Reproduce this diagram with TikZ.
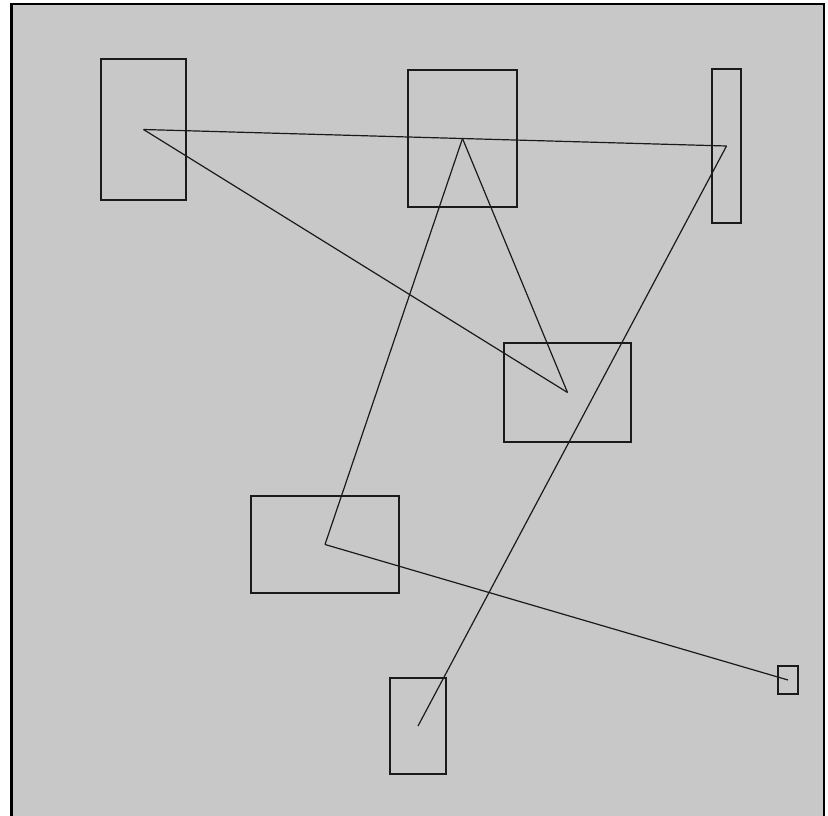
\documentclass[tikz,border=0pt]{standalone}
\usepackage{tikz}
\usetikzlibrary{positioning}
\definecolor{PlotBack}{HTML}{C8C8C8}
\definecolor{PlotInk}{HTML}{1A1A1A}
\tikzset{
  frame/.style={draw=black, fill=PlotBack, line width=2.2pt},
  cell/.style={draw=PlotInk, rectangle, inner sep=0pt, line width=1.4pt},
  link/.style={draw=PlotInk, line width=1.2pt},
}
\begin{document}
\begin{tikzpicture}[x=1pt, y=-1pt]

  \useasboundingbox (0,0) rectangle (828,816);
  \draw[frame] (11.5,4) rectangle (824,822);

  % boxes
  \node[cell, minimum width=85pt,  minimum height=141pt] (alpha) at (143.5,129.5) {};
  \node[cell, minimum width=109pt, minimum height=137pt] (beta)  at (462.5,138.5) {};
  \node[cell, minimum width=29pt,  minimum height=154pt] (gamma) at (726.5,146)   {};
  \node[cell, minimum width=127pt, minimum height=99pt]  (delta) at (567.5,392.5) {};
  \node[cell, minimum width=148pt, minimum height=97pt]  (eps)   at (325,544.5)   {};
  \node[cell, minimum width=56pt,  minimum height=96pt]  (zeta)  at (418,726)     {};
  \node[cell, minimum width=20pt,  minimum height=28pt]  (eta)   at (788,680)     {};

  % links between centres
  \draw[link] (alpha.center) -- (gamma.center);
  \draw[link] (alpha.center) -- (delta.center);
  \draw[link] (beta.center)  -- (delta.center);
  \draw[link] (beta.center)  -- (eps.center);
  \draw[link] (eps.center)   -- (eta.center);
  \draw[link] (gamma.center) -- (zeta.center);

\end{tikzpicture}
\end{document}
